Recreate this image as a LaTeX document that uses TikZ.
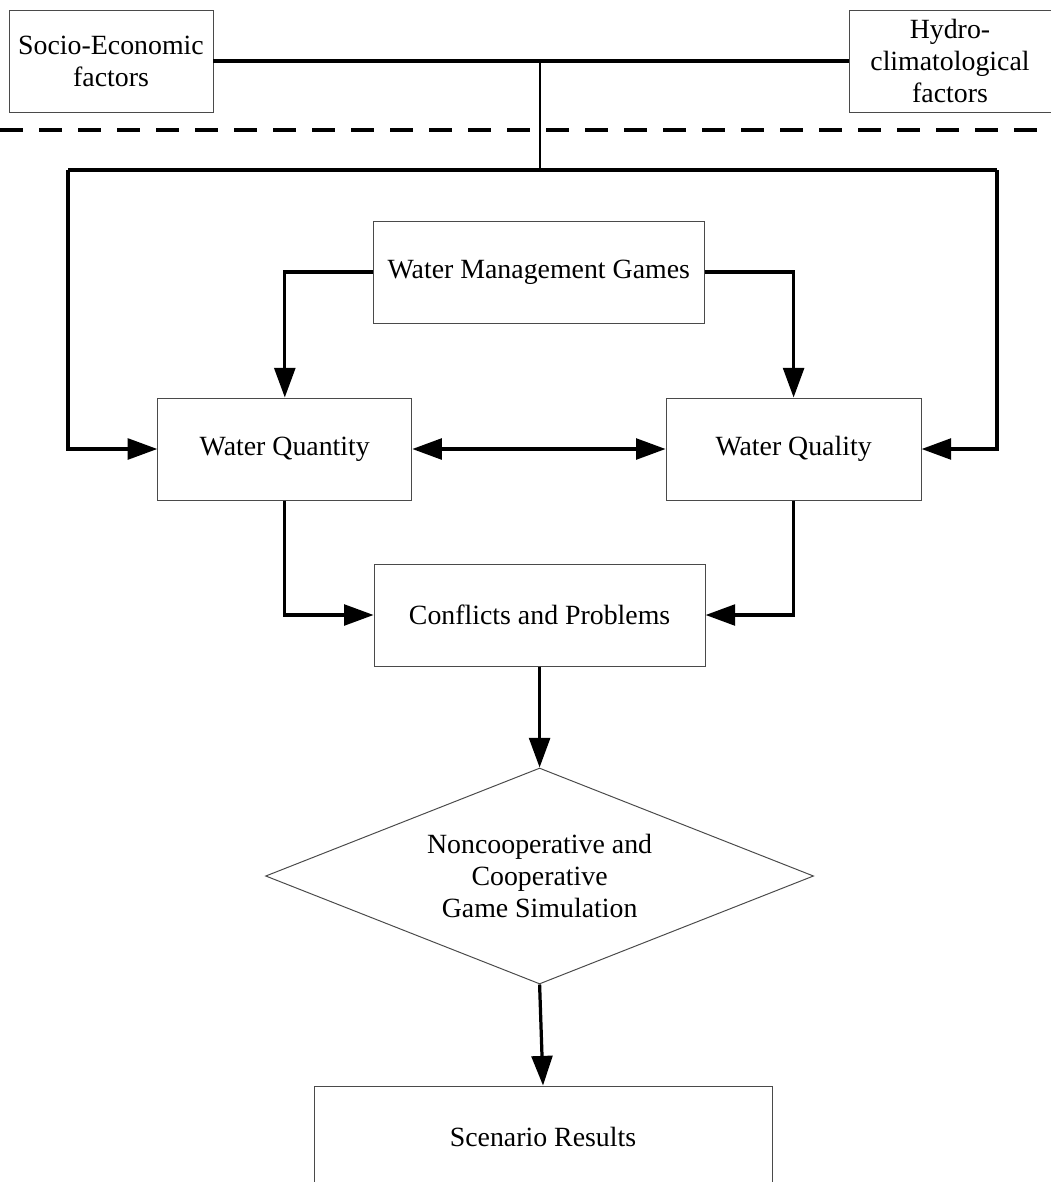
\documentclass[tikz,border=0pt]{standalone}
\usepackage{fontspec}
\setmainfont{Liberation Serif}
\usetikzlibrary{arrows.meta,positioning,shapes.geometric}
\definecolor{ink}{HTML}{000000}
\definecolor{frame}{HTML}{4A4A4A}
\newcommand{\chartfont}{\fontsize{19.8}{22.7}\selectfont}
\tikzset{
 every node/.append style={font=\chartfont,text=ink,align=center},
 box/.style={draw=frame,fill=white,line width=.7pt,inner sep=2pt,minimum height=25.5mm},
 choice/.style={diamond,draw=frame,fill=white,line width=.7pt,inner sep=0pt,minimum width=137mm,minimum height=54mm,aspect=2.54},
 flow/.style={-{Triangle[length=7.4mm,width=5.2mm]},draw=ink,line width=2.3pt},
 both/.style={{Triangle[length=7.4mm,width=5.2mm]}-{Triangle[length=7.4mm,width=5.2mm]},draw=ink,line width=2.3pt},
 route/.style={draw=ink,line width=2.3pt},
 stem/.style={draw=ink,line width=1.5pt},
 boundary/.style={draw=ink,line width=2.7pt,dash pattern=on 5.8mm off 3.95mm},
}

\begin{document}
\begin{tikzpicture}

\useasboundingbox (0,0) rectangle (26.275,-29.55);
\node[box,minimum width=51mm] (socio) at (2.775,-1.525) {Socio-Economic\\factors};
\node[box,minimum width=50.5mm] (hydro) at (23.75,-1.525) {Hydro-\\climatological\\factors};
\coordinate (hub) at (13.5,-1.525);
\coordinate (split) at (13.5,-4.25);
\coordinate (lt) at (1.7,-4.25);
\coordinate (rt) at (24.925,-4.25);
\coordinate (dl) at (0,-3.25);
\coordinate (dr) at (26.275,-3.25);
\draw[boundary] (dl) -- (dr);
\draw[route] (socio.east) -- (hydro.west);
\draw[stem] (hub) -- (split);
\node[box,minimum width=82.75mm] (games) at (13.47,-6.8) {Water Management Games};
\node[box,minimum width=63.5mm] (quantity) at (7.12,-11.225) {Water Quantity};
\node[box,minimum width=63.75mm] (quality) at (19.84,-11.225) {Water Quality};
\node[box,minimum width=82.75mm] (conflicts) at (13.49,-15.375) {Conflicts and Problems};
\node[choice] (sim) at (13.49,-21.9) {Noncooperative and\\Cooperative\\Game Simulation};
\node[box,minimum width=114.5mm] (results) at (13.575,-28.425) {Scenario Results};
\draw[route] (lt) -- (rt);
\draw[flow] (lt) |- (quantity.west);
\draw[flow] (rt) |- (quality.east);
\draw[flow] (games.west) -| (quantity.north);
\draw[flow] (games.east) -| (quality.north);
\draw[both] (quantity) -- (quality);
\draw[flow] (quantity.south) |- (conflicts.west);
\draw[flow] (quality.south) |- (conflicts.east);
\draw[flow] (conflicts.south) -- (sim.north);
\draw[flow] (sim.south) -- (results.north);

\end{tikzpicture}
\end{document}
